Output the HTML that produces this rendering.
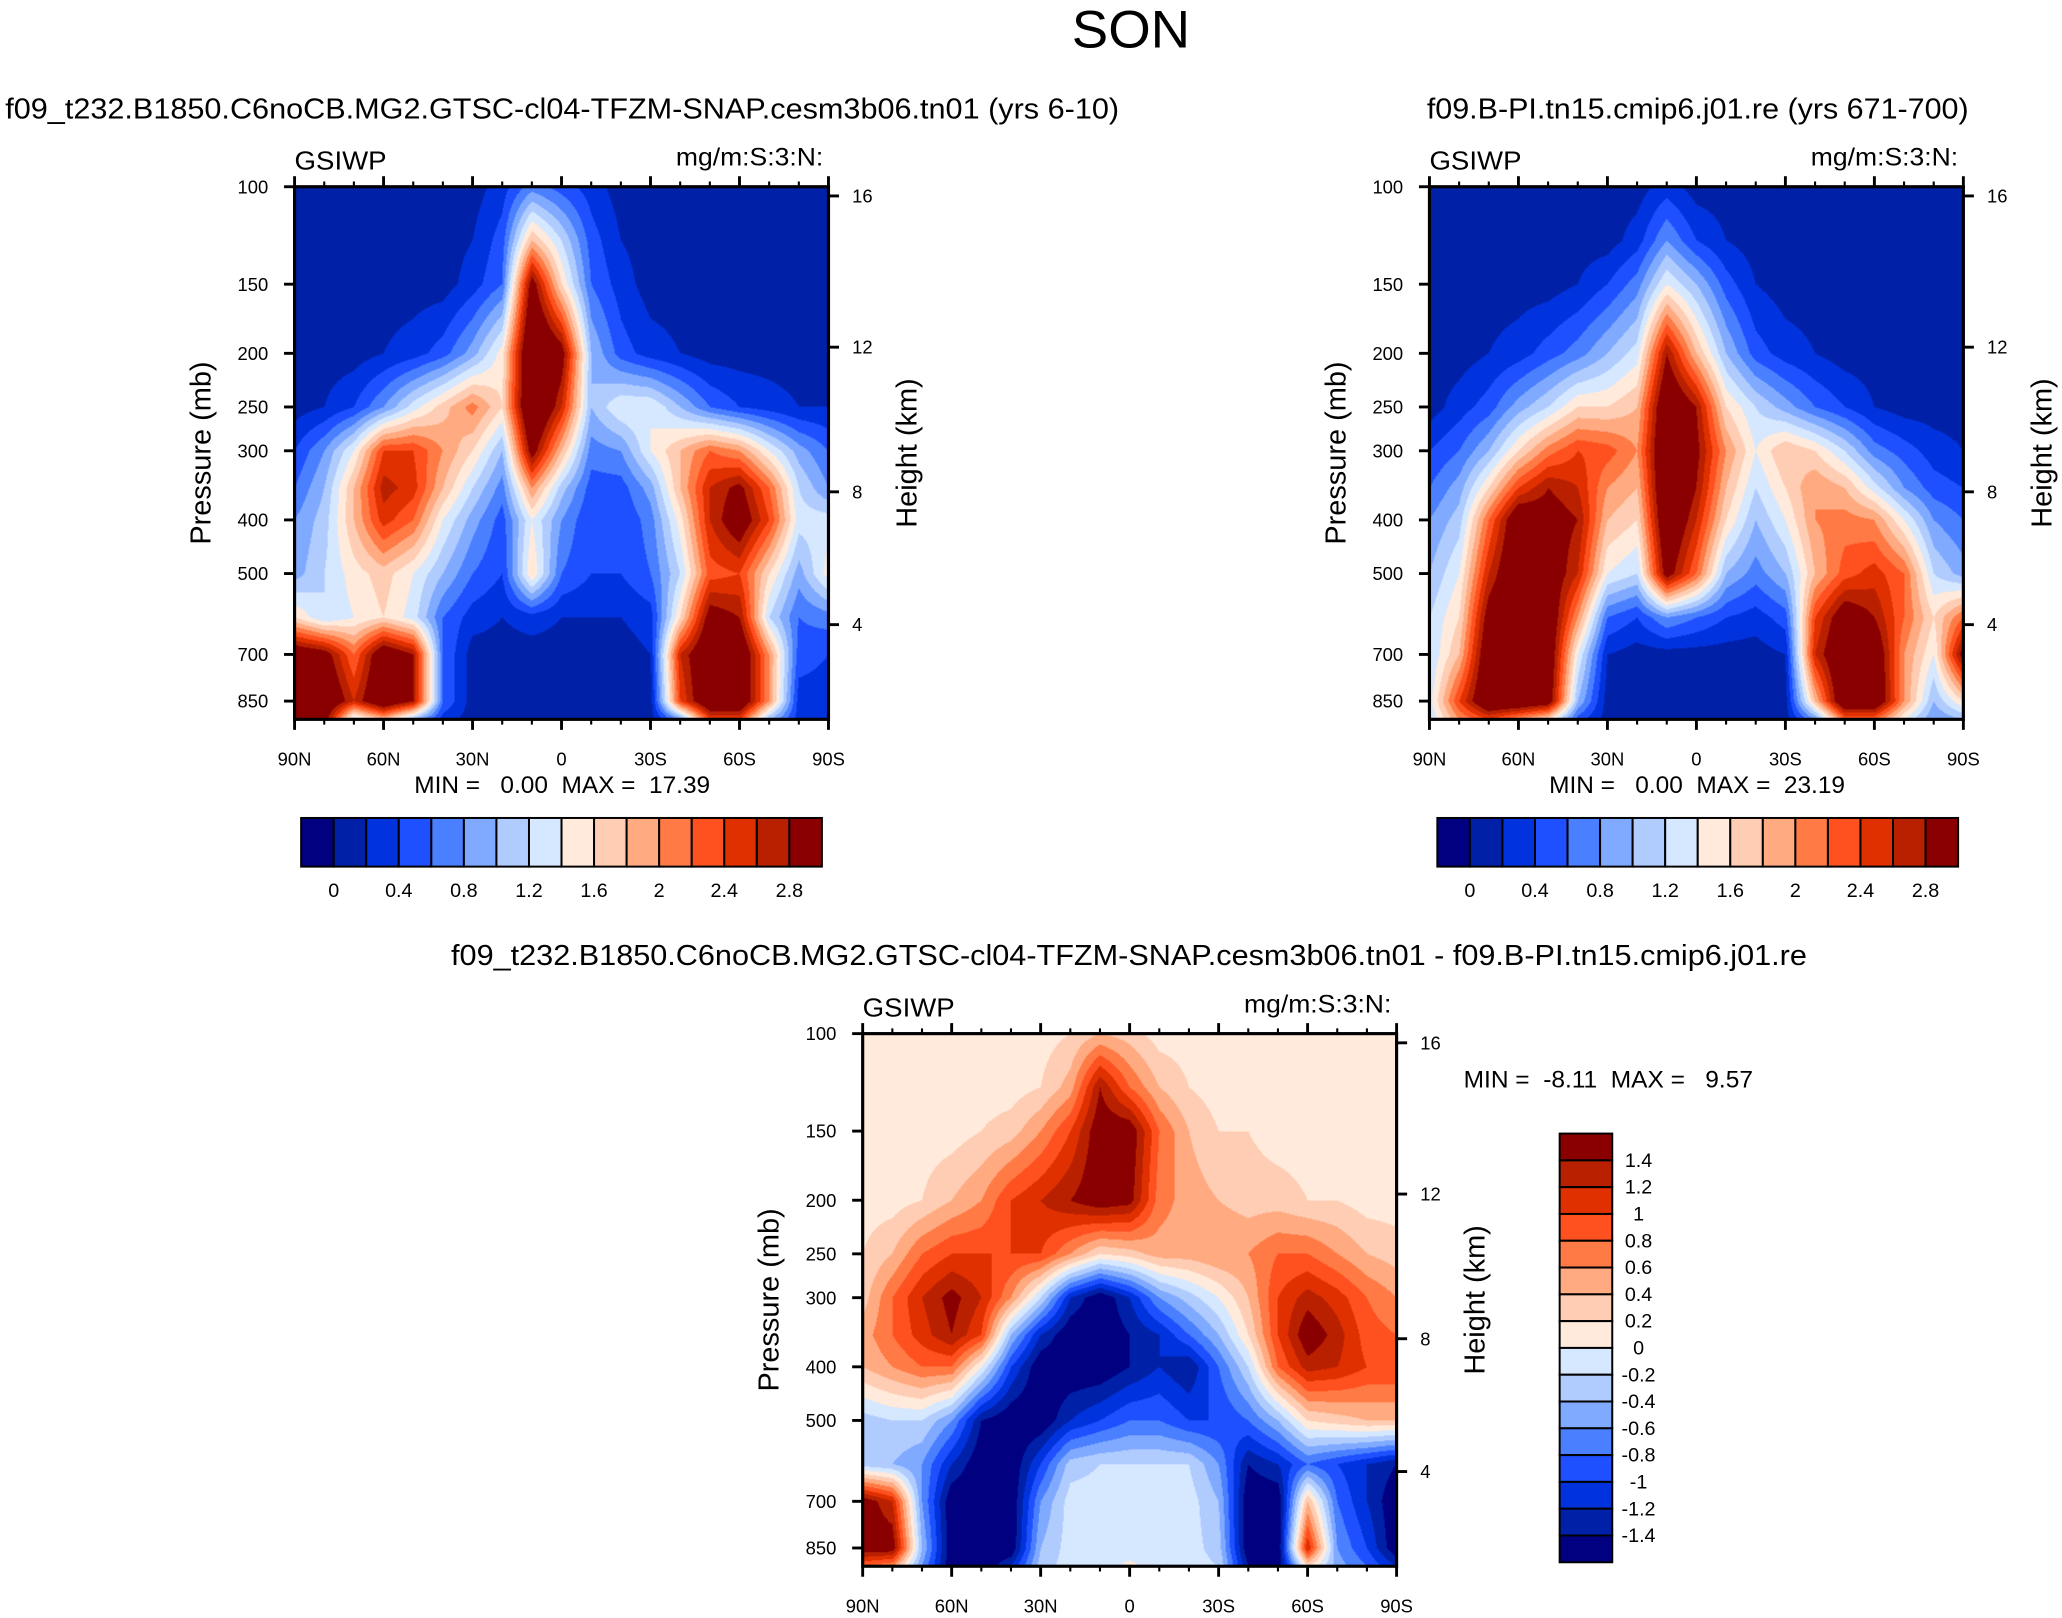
<!DOCTYPE html>
<html><head><meta charset="utf-8">
<style>
html,body{margin:0;padding:0;background:#fff;}
body{width:2062px;height:1617px;overflow:hidden;position:relative;}
#stage{position:absolute;left:0;top:0;width:1568px;height:1230px;transform:scale(1.31505);transform-origin:0 0;}
canvas{position:absolute;}
svg{position:absolute;left:0;top:0;}
text{font-family:"Liberation Sans",Helvetica,sans-serif;fill:#000;white-space:pre;}
</style></head>
<body>
<div id="stage">
<canvas id="cA"></canvas>
<canvas id="cB"></canvas>
<canvas id="cC"></canvas>
<svg id="ov" width="1568" height="1230" viewBox="0 0 1568 1230"></svg>
</div>
<script>
// ---- data ----
const lats = ["90N","80N","70N","60N","50N","40N","30N","20N","10N","0","10S","20S","30S","40S","50S","60S","70S","80S","90S"];
const levels = [100,125,150,200,250,300,350,400,500,600,700,850,917];
const xTickLabels = ["90N","60N","30N","0","30S","60S","90S"];
const pTicks = [100,150,200,250,300,400,500,700,850];
const hTicks = [16,12,8,4];
const absLabels = ["0","0.4","0.8","1.2","1.6","2","2.4","2.8"];
const diffLabels = ["1.4","1.2","1","0.8","0.6","0.4","0.2","0","-0.2","-0.4","-0.6","-0.8","-1","-1.2","-1.4"];
const colors = ["#000080","#0020a8","#0033dd","#1f50ff","#4a7fff","#80aaff","#b0ccff","#d6e8ff","#ffeadb","#ffcdb3","#ffaa80","#ff7a45","#ff5020","#e03000","#b82000","#8a0000"];
const fieldA = [
[.1,.1,.1,.1,.1,.1,.1,.3,.7,.5,.3,.1,.1,.1,.1,.1,.1,.1,.1],
[.1,.1,.1,.1,.1,.1,.2,.5,1.8,1.2,.5,.2,.1,.1,.1,.1,.1,.1,.1],
[.1,.1,.1,.1,.1,.1,.3,.6,3.0,1.6,.6,.3,.1,.1,.1,.1,.1,.1,.1],
[.1,.1,.1,.2,.3,.5,.9,1.5,3.5,3.0,1.0,.5,.3,.2,.1,.1,.1,.1,.1],
[.1,.2,.4,.8,1.3,1.7,2.1,1.6,3.5,2.6,1.0,1.4,1.4,1.0,.6,.4,.3,.2,.2],
[.4,.8,1.4,2.4,2.4,2.0,1.6,1.0,3.0,1.8,.7,.8,1.4,1.8,2.2,2.0,1.4,.9,.6],
[.6,1.0,1.8,2.7,2.5,1.8,1.2,.7,2.0,1.1,.5,.5,.9,1.8,2.6,2.9,2.2,1.2,.8],
[.8,1.1,1.8,2.5,2.2,1.4,.9,.5,1.4,.8,.4,.4,.7,1.5,2.6,3.1,2.4,1.3,1.3],
[.9,1.2,1.5,1.7,1.4,1.0,.6,.4,1.6,.6,.4,.4,.6,1.2,2.3,2.4,1.6,.9,1.5],
[1.6,1.2,1.4,1.6,1.3,.6,.3,.2,.3,.2,.2,.2,.3,1.6,3.0,2.8,1.2,.6,.7],
[3.2,3.0,2.2,3.2,2.8,.6,.1,.1,.1,.1,.1,.1,.2,2.6,3.3,3.3,2.0,.5,.4],
[3.3,3.3,2.6,3.3,2.8,.6,.1,.1,.1,.1,.1,.1,.1,2.4,3.3,3.3,2.0,.3,.3],
[3.0,3.0,1.2,1.8,1.0,.3,.1,.1,.1,.1,.1,.1,.1,.8,2.4,2.4,1.0,.3,.3]];
const fieldB = [
[.1,.1,.1,.1,.1,.1,.1,.1,.3,.1,.1,.1,.1,.1,.1,.1,.1,.1,.1],
[.1,.1,.1,.1,.1,.1,.1,.3,.8,.4,.2,.1,.1,.1,.1,.1,.1,.1,.1],
[.1,.1,.1,.1,.1,.2,.4,.7,1.4,1.0,.5,.2,.1,.1,.1,.1,.1,.1,.1],
[.1,.1,.2,.3,.5,.7,1.0,1.3,2.8,1.8,1.0,.5,.3,.2,.1,.1,.1,.1,.1],
[.1,.3,.5,.9,1.2,1.6,1.6,1.8,3.3,2.8,1.6,1.2,.9,.6,.4,.2,.1,.1,.1],
[.4,.6,1.0,1.6,2.1,2.4,2.3,2.0,3.4,2.9,2.0,1.4,1.8,1.6,1.2,.7,.5,.3,.2],
[.6,.9,1.6,2.4,2.8,2.6,2.0,1.8,3.4,2.8,1.8,1.2,1.6,2.0,1.8,1.3,.8,.5,.4],
[.8,1.1,2.2,3.2,3.0,2.8,1.8,1.6,3.3,2.6,1.6,1.0,1.4,2.0,2.1,2.0,1.4,.8,.6],
[1.0,1.4,2.6,3.3,3.1,2.6,1.4,1.2,3.0,2.2,1.0,.7,1.0,1.8,2.3,2.5,2.2,1.2,.9],
[1.2,1.6,3.0,3.3,3.2,2.0,.6,.4,.8,.6,.4,.3,.5,2.4,3.1,2.8,2.2,1.6,2.2],
[1.2,1.8,3.2,3.3,3.2,1.4,.2,.1,.1,.1,.1,.1,.2,2.6,3.3,3.2,2.0,1.4,3.0],
[1.3,2.4,3.3,3.3,3.1,1.0,.1,.1,.1,.1,.1,.1,.1,1.8,3.3,3.3,2.0,1.0,1.6],
[1.2,2.0,2.4,2.0,1.6,.5,.1,.1,.1,.1,.1,.1,.1,.8,2.2,2.2,1.4,.8,1.0]];
const fieldC = [
[.1,.1,.1,.1,.1,.1,.1,.2,.4,.3,.1,.1,.1,.1,.1,.1,.1,.1,.1],
[.1,.1,.1,.1,.1,.1,.2,.5,1.4,.8,.4,.2,.1,.1,.1,.1,.1,.1,.1],
[.1,.1,.1,.1,.2,.3,.6,1.0,1.6,1.6,.8,.4,.2,.2,.1,.1,.1,.1,.1],
[.1,.1,.2,.4,.6,1.0,1.2,1.4,1.6,1.5,.7,.5,.4,.3,.3,.2,.2,.1,.1],
[.2,.4,.8,1.0,1.0,1.0,1.0,.6,.2,.3,.5,.5,.6,.6,.8,.8,.6,.4,.3],
[.3,.8,1.2,1.5,1.2,.6,-.2,-1.2,-1.6,-1.2,-.6,-.3,0,.4,1.0,1.3,1.1,.8,.6],
[.5,.8,1.1,1.4,1.0,-.4,-1.2,-1.6,-1.6,-1.4,-1.2,-.8,-.4,.2,1.0,1.6,1.3,.9,.8],
[.4,.6,.8,.8,0,-1.0,-1.6,-1.6,-1.6,-1.4,-1.2,-1.4,-.8,-.2,.8,1.3,1.2,1.0,1.0],
[-.3,-.2,-.2,-.6,-1.4,-1.6,-1.6,-1.2,-1.0,-.8,-.8,-1.0,-1.0,-.8,-.4,.2,.3,.4,.4],
[-.3,-.4,-.6,-1.2,-1.6,-1.6,-1.0,-.3,-.2,-.2,-.2,-.2,-.6,-1.4,-1.2,-.8,-1.0,-1.2,-1.4],
[1.6,1.2,-.6,-1.6,-1.6,-1.6,-.6,-.1,-.1,-.1,-.1,-.1,-.4,-1.6,-1.6,.4,-.8,-1.2,-1.6],
[1.6,1.6,-.4,-1.6,-1.6,-1.6,-.4,-.1,-.1,-.1,-.1,-.1,-.3,-1.6,-1.6,1.2,-.6,-1.0,-1.6],
[.8,.6,-.6,-1.6,-1.6,-1.2,-.3,-.1,-.1,.05,-.1,-.1,-.2,-1.4,-1.6,.2,-.5,-.8,-1.2]];

// ---- layout ----
const S = 1.31505;
const W = 406, H = 405;
const PTOP = 100, PBOT = 917;
const plots = [
 {id:"cA", x:224, y:142, f:fieldA, lo:0, name:"left"},
 {id:"cB", x:1087, y:142, f:fieldB, lo:0, name:"right"},
 {id:"cC", x:656, y:786, f:fieldC, lo:-1.4, name:"diff"}];
function yOfP(p, y0){ return y0 + H*Math.log(p/PTOP)/Math.log(PBOT/PTOP); }
function xOfLat(i, x0){ return x0 + i*W/(lats.length-1); }
function bin(v, lo){ let k = Math.floor((v-lo)/0.2+1e-6)+1; return Math.max(0,Math.min(15,k)); }
const lnL = levels.map(p=>Math.log(p));
function sample(f, fx, lp){
  let j=0; while(j<levels.length-2 && lp>lnL[j+1]) j++;
  let t=(lp-lnL[j])/(lnL[j+1]-lnL[j]); t=Math.max(0,Math.min(1,t));
  let i=Math.min(lats.length-2,Math.floor(fx)); let s=fx-i;
  const a=f[j][i]*(1-s)+f[j][i+1]*s, b=f[j+1][i]*(1-s)+f[j+1][i+1]*s;
  return a*(1-t)+b*t;
}
plots.forEach(pl=>{
  const c=document.getElementById(pl.id);
  c.style.left=pl.x+"px"; c.style.top=pl.y+"px"; c.style.width=W+"px"; c.style.height=H+"px";
  const pw=Math.round(W*S), ph=Math.round(H*S);
  c.width=pw; c.height=ph;
  const ctx=c.getContext("2d");
  const img=ctx.createImageData(pw,ph);
  const rgb=colors.map(h=>[parseInt(h.substr(1,2),16),parseInt(h.substr(3,2),16),parseInt(h.substr(5,2),16)]);
  for(let py=0;py<ph;py++){
    const lp=Math.log(PTOP)+(py+0.5)/ph*Math.log(PBOT/PTOP);
    for(let px=0;px<pw;px++){
      const fx=(px+0.5)/pw*(lats.length-1);
      const v=sample(pl.f,fx,lp);
      const col=rgb[bin(v,pl.lo)];
      const o=(py*pw+px)*4; img.data[o]=col[0];img.data[o+1]=col[1];img.data[o+2]=col[2];img.data[o+3]=255;
    }
  }
  ctx.putImageData(img,0,0);
});

// ---- overlay ----
const svg=document.getElementById("ov");
const NS="http://www.w3.org/2000/svg";
function mk(tag, attrs, parent){ const e=document.createElementNS(NS,tag); for(const k in attrs) e.setAttribute(k,attrs[k]); (parent||svg).appendChild(e); return e; }
function txt(x,y,s,size,anchor,name,rot,len){
  const e=mk("text",{x:x,y:y,"font-size":size,"text-anchor":anchor||"start"});
  if(rot) e.setAttribute("transform","rotate(-90 "+x+" "+y+")");
  if(len){ e.setAttribute("textLength",len); e.setAttribute("lengthAdjust","spacingAndGlyphs"); }
  e.textContent=s;
  
  
  return e;
}
txt(860,36,"SON",40,"middle","figure-title",false,90);
txt(4,90,"f09_t232.B1850.C6noCB.MG2.GTSC-cl04-TFZM-SNAP.cesm3b06.tn01 (yrs 6-10)",22,"start","left-subtitle",false,847);
txt(1085,90,"f09.B-PI.tn15.cmip6.j01.re (yrs 671-700)",22,"start","right-subtitle",false,412);
txt(343,734,"f09_t232.B1850.C6noCB.MG2.GTSC-cl04-TFZM-SNAP.cesm3b06.tn01 - f09.B-PI.tn15.cmip6.j01.re",22,"start","diff-subtitle",false,1031);

function axes(pl){
  const g=mk("g",{});
  
  
  const x0=pl.x, y0=pl.y, x1=x0+W, y1=y0+H;
  txt(x0,y0-13,"GSIWP",20,"start","variable-label",false,70);
  txt(x1-4,y0-16,"mg/m:S:3:N:",19,"end","units-label",false,112);
  for(let i=0;i<lats.length;i++){
    const x=xOfLat(i,x0), major=(i%3===0), L=major?8:4;
    mk("line",{x1:x,y1:y0,x2:x,y2:y0-L,stroke:"#000","stroke-width":major?2.2:1.6},g);
    mk("line",{x1:x,y1:y1,x2:x,y2:y1+L,stroke:"#000","stroke-width":major?2.2:1.6},g);
  }
  xTickLabels.forEach((s,k)=>txt(xOfLat(k*3,x0),y1+35,s,14,"middle","x-tick-label"));
  pTicks.forEach(p=>{
    const y=yOfP(p,y0);
    mk("line",{x1:x0,y1:y,x2:x0-8,y2:y,stroke:"#000","stroke-width":2.2},g);
    txt(x0-20,y+5,String(p),14,"end","pressure-tick-label");
  });
  hTicks.forEach((h,k)=>{
    const yy=[7,122,232,333][k]+y0;
    mk("line",{x1:x1,y1:yy,x2:x1+8,y2:yy,stroke:"#000","stroke-width":2.2},g);
    txt(x1+18,yy+5,String(h),14,"start","height-tick-label");
  });
  mk("rect",{x:x0,y:y0,width:W,height:H,fill:"none",stroke:"#000","stroke-width":2.4},g);
  txt(x0-64,y0+H/2,"Pressure (mb)",22,"middle","y-axis-title",true);
  txt(x1+67,y0+H/2,"Height (km)",22,"middle","y2-axis-title",true);
}
plots.forEach(axes);
txt(315,603,"MIN =   0.00  MAX =  17.39",18,"start","left-minmax",false,225);
txt(1178,603,"MIN =   0.00  MAX =  23.19",18,"start","right-minmax",false,225);
txt(1113,827,"MIN =  -8.11  MAX =   9.57",18,"start","diff-minmax",false,220);

function hbar(x0,name){
  const y0=622, w=(625-229)/16, h=37;
  for(let k=0;k<16;k++){
    const r=mk("rect",{x:x0+k*w,y:y0,width:w,height:h,fill:colors[k],stroke:"#000","stroke-width":1.5});
    
    
  }
  absLabels.forEach((s,k)=>txt(x0+(2*k+1)*w,y0+h+23,s,15,"middle",name+"-label"));
}
hbar(229,"left-colorbar"); hbar(1093,"right-colorbar");
(function vbar(){
  const x0=1186, y0=862, w=40, h=(1188-862)/16;
  for(let k=0;k<16;k++){
    const r=mk("rect",{x:x0,y:y0+k*h,width:w,height:h,fill:colors[15-k],stroke:"#000","stroke-width":1.5});
    
    
  }
  diffLabels.forEach((s,k)=>txt(1246,y0+(k+1)*h+5,s,15,"middle","diff-colorbar-label"));
})();
</script>
</body></html>
